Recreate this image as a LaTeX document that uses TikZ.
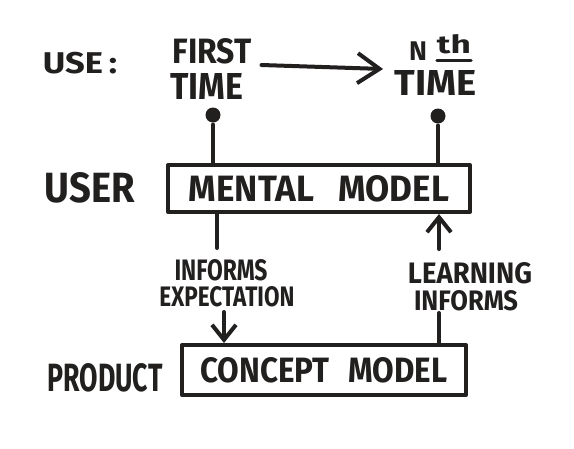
\documentclass[tikz,border=0pt]{standalone}
\usepackage{fontspec}
\setmainfont{Fira Sans}
\usetikzlibrary{arrows.meta}
\definecolor{ink}{RGB}{34,31,31}
\newcommand{\fitw}[3]{\resizebox{#1pt}{#2pt}{\bfseries #3}}
\tikzset{
  lbl/.style={inner sep=0pt, outer sep=0pt},
  boxnode/.style={draw, line width=4pt, inner sep=0pt},
  dotnode/.style={circle, fill, inner sep=0pt, minimum size=15pt},
  arrowhd/.style={-{Straight Barb[length=15pt,width=24pt]}},
  bigarrowhd/.style={-{Straight Barb[length=22pt,width=30pt]}}
}
\begin{document}
\begin{tikzpicture}[x=1pt,y=-1pt,line width=4pt,line cap=round,line join=round,color=ink]
\useasboundingbox[fill=white] (0,0) rectangle (574,448);

% row labels
\node[lbl] (use) at (80,63) {\scalebox{1.15}[1]{\fontsize{30}{30}\selectfont\bfseries USE\,:}};
\node[lbl] (user) at (90,188) {\fitw{90}{30}{USER}};
\node[lbl] (product) at (105,378) {\fitw{115}{28}{PRODUCT}};

% top texts
\node[lbl] (first) at (212,51) {\fitw{79}{25}{FIRST}};
\node[lbl] (time1) at (207,86) {\fitw{73}{26}{TIME}};
\node[lbl] (nN) at (418,51) {\fontsize{27}{27}\selectfont\bfseries N};
\node[lbl] (nth) at (454,44) {\fitw{34}{19}{th}};
\node[lbl] (time2) at (436,83) {\fitw{82}{25}{TIME}};
\draw[line width=3.5pt] ([yshift=-7pt]nth.south west) -- ([yshift=-7pt]nth.south east);

% dots
\node[dotnode] (d1) at (213,115) {};
\node[dotnode] (d2) at (438,116) {};

% boxes
\node[boxnode, minimum width=302pt, minimum height=47pt] (mental) at (319,188.5)
  {\fitw{260}{26}{MENTAL\hspace{0.7em}MODEL}\hspace{-2pt}};
\node[boxnode, minimum width=284pt, minimum height=50pt] (concept) at (324,370)
  {\fitw{247}{25}{CONCEPT\hspace{0.6em}MODEL}\hspace{16pt}};

% middle labels
\node[lbl] (inf1) at (221,270) {\fitw{93}{21}{INFORMS}};
\node[lbl] (expect) at (227,297) {\fitw{135}{20}{EXPECTATION}};
\node[lbl] (learn) at (470,273) {\fitw{124}{21}{LEARNING}};
\node[lbl] (inf2) at (466,301) {\fitw{104}{20}{INFORMS}};

% top arrow
\draw[bigarrowhd] ([shift={(10,14)}]first.east) -- ([shift={(-26,18)}]nN.west);

% dot stems
\draw (d1) -- (d1 |- mental.north);
\draw (d2) -- (d2 |- mental.north);

% left connectors
\coordinate (a1) at (217,248);
\coordinate (a2) at (224,312);
\draw (mental.south -| a1) -- (a1);
\draw[arrowhd] (a2) -- (a2 |- concept.north);

% right connectors
\coordinate (b1) at (439,249);
\coordinate (b2) at (439,313);
\draw[arrowhd] (b1) -- (b1 |- mental.south);
\draw (concept.north -| b2) -- (b2);
\end{tikzpicture}
\end{document}
